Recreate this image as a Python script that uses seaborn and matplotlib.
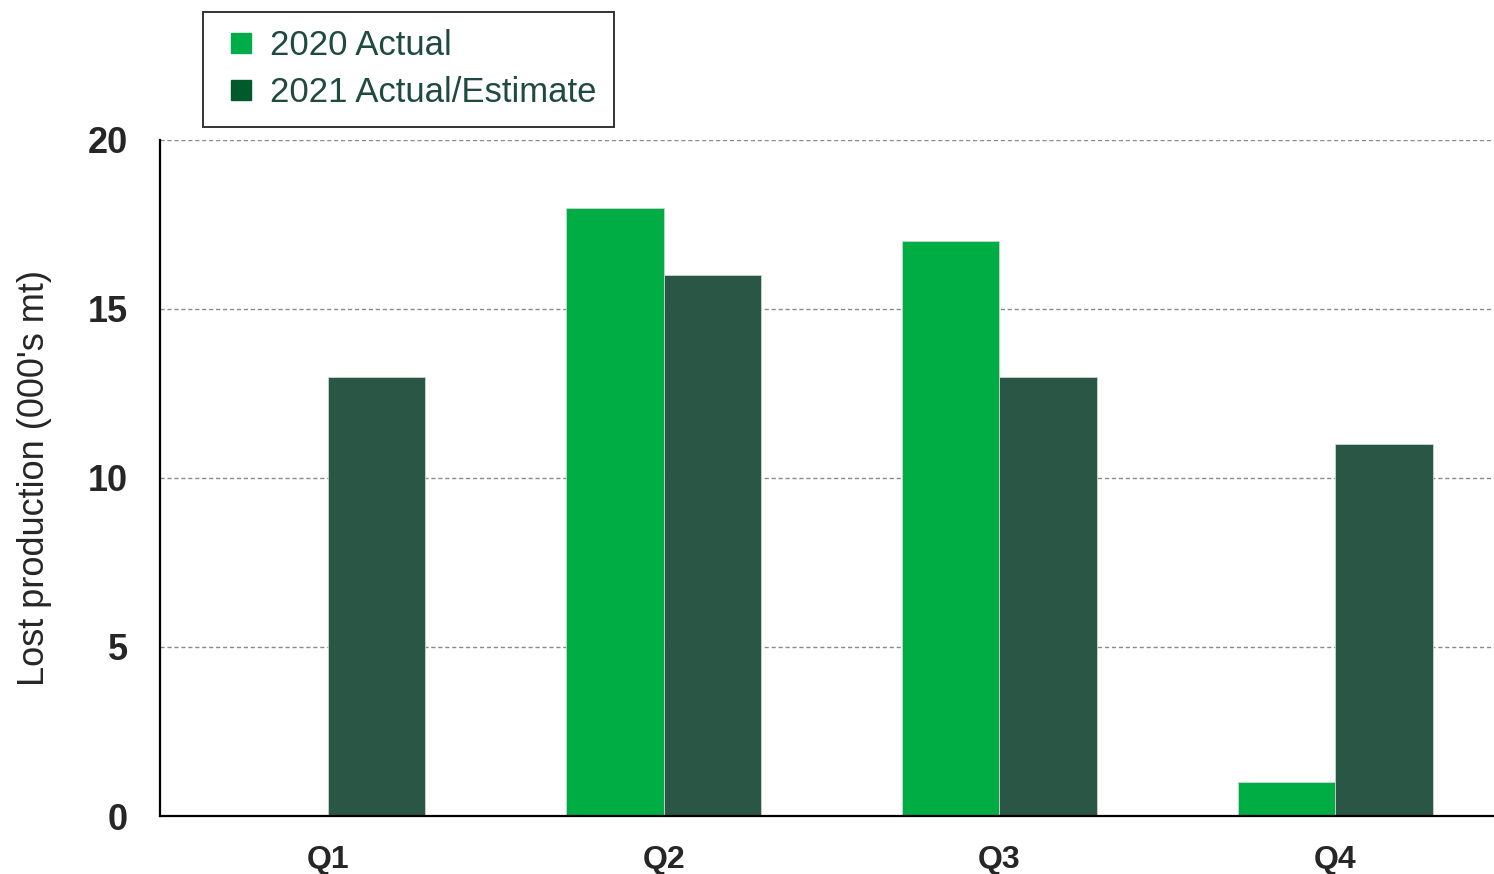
import matplotlib
matplotlib.use("Agg")
import matplotlib.pyplot as plt
from matplotlib.lines import Line2D
from matplotlib.ticker import FixedLocator
import seaborn as sns
import pandas as pd

quarters = ["Q1", "Q2", "Q3", "Q4"]
series_names = ["2020 Actual", "2021 Actual/Estimate"]
actual_2020 = [0, 18, 17, 1]
estimate_2021 = [13, 16, 13, 11]
y_ticks = [0, 5, 10, 15, 20]

bar_colors = ["#00AD45", "#2A5745"]
legend_colors = ["#00AC47", "#005A2B"]

df = pd.DataFrame({
    "quarter": quarters * 2,
    "series": [series_names[0]] * 4 + [series_names[1]] * 4,
    "value": actual_2020 + estimate_2021,
})

sns.set_style("white")
plt.rcParams["font.family"] = ["Liberation Sans", "DejaVu Sans"]

fig = plt.figure(figsize=(14.94, 8.74), dpi=100)
ax = fig.add_axes([160 / 1494, 58 / 874, 1334 / 1494, 676 / 874])

sns.barplot(data=df, x="quarter", y="value", hue="series", order=quarters,
            hue_order=series_names, palette=bar_colors, width=0.58,
            saturation=1, legend=False, ax=ax, edgecolor="#c8d8d0", linewidth=0.6)

ax.set_xlim(-0.5, 3.473)
ax.set_ylim(0, 20)
ax.set_yticks(y_ticks)
ax.set_yticklabels([str(v) for v in y_ticks], fontsize=26, fontweight="bold")
ax.set_xticks(range(len(quarters)))
ax.set_xticklabels(quarters, fontsize=23, fontweight="bold")
ax.xaxis.set_minor_locator(FixedLocator([-0.5, 0.5, 1.5, 2.5]))
ax.tick_params(axis="x", which="major", length=0, pad=21)
ax.tick_params(axis="x", which="minor", length=7, width=1.2, color="black", direction="out")
ax.tick_params(axis="y", length=0, pad=23)
ax.set_xlabel("")
ax.set_ylabel("Lost production (000's mt)", fontsize=26, labelpad=26)

for s in ["top", "right"]:
    ax.spines[s].set_visible(False)
for s in ["left", "bottom"]:
    ax.spines[s].set_color("black")
    ax.spines[s].set_linewidth(1.6)

ax.yaxis.grid(True, linestyle=(0, (3, 2)), color="#8a8a8a", linewidth=1.0)
ax.set_axisbelow(True)

handles = [Line2D([], [], linestyle="none", marker="s", markersize=14,
                  markerfacecolor=c, markeredgecolor=c) for c in legend_colors]
leg = fig.legend(handles, series_names, loc="upper left",
                 bbox_to_anchor=(203 / 1494, 1 - 12 / 874),
                 fontsize=25, frameon=True, fancybox=False,
                 handlelength=1.18, handletextpad=0.26,
                 labelspacing=0.4, borderpad=0.5, borderaxespad=0)
leg.get_frame().set_edgecolor("black")
leg.get_frame().set_linewidth(1.4)
for t in leg.get_texts():
    t.set_color("#1F4A3F")

fig.savefig("out.png", dpi=100)
